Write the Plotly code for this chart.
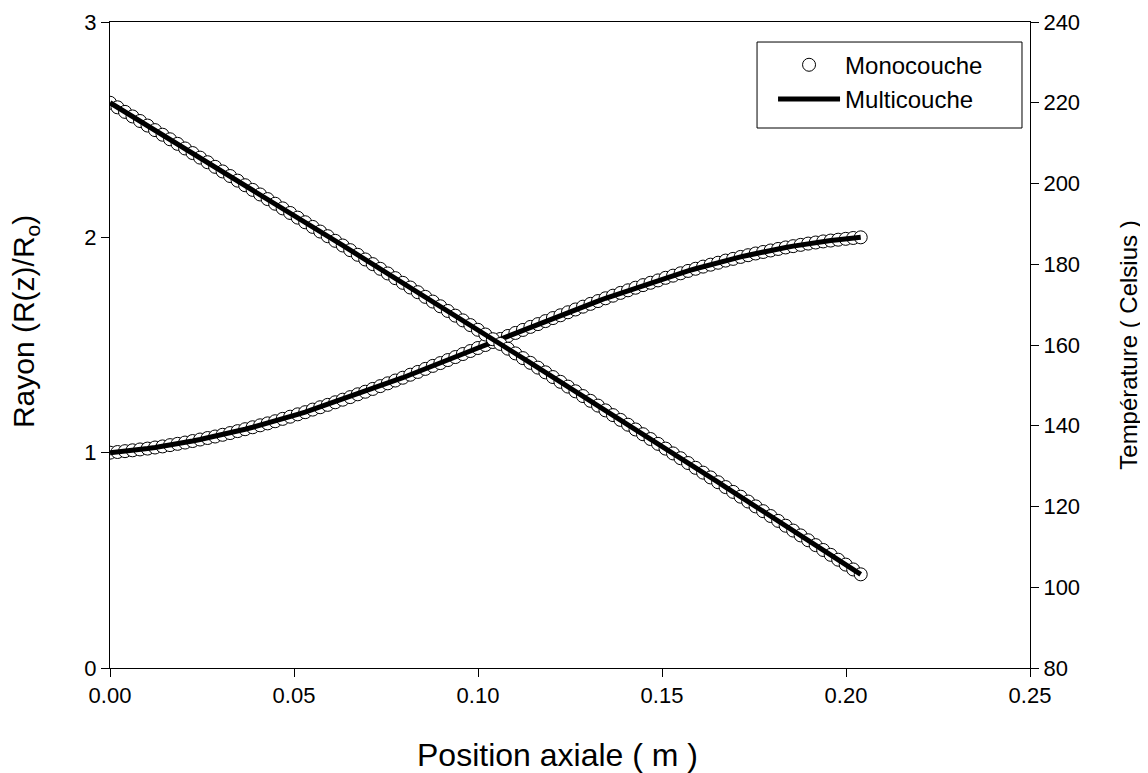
import plotly.graph_objects as go

z = [0.00000, 0.00204, 0.00408, 0.00612, 0.00816, 0.01020, 0.01224, 0.01428, 0.01632, 0.01836,
     0.02040, 0.02244, 0.02448, 0.02652, 0.02856, 0.03060, 0.03264, 0.03468, 0.03672, 0.03876,
     0.04080, 0.04284, 0.04488, 0.04692, 0.04896, 0.05100, 0.05304, 0.05508, 0.05712, 0.05916,
     0.06120, 0.06324, 0.06528, 0.06732, 0.06936, 0.07140, 0.07344, 0.07548, 0.07752, 0.07956,
     0.08160, 0.08364, 0.08568, 0.08772, 0.08976, 0.09180, 0.09384, 0.09588, 0.09792, 0.09996,
     0.10200, 0.10404, 0.10608, 0.10812, 0.11016, 0.11220, 0.11424, 0.11628, 0.11832, 0.12036,
     0.12240, 0.12444, 0.12648, 0.12852, 0.13056, 0.13260, 0.13464, 0.13668, 0.13872, 0.14076,
     0.14280, 0.14484, 0.14688, 0.14892, 0.15096, 0.15300, 0.15504, 0.15708, 0.15912, 0.16116,
     0.16320, 0.16524, 0.16728, 0.16932, 0.17136, 0.17340, 0.17544, 0.17748, 0.17952, 0.18156,
     0.18360, 0.18564, 0.18768, 0.18972, 0.19176, 0.19380, 0.19584, 0.19788, 0.19992, 0.20196,
     0.20400]

rayon = [1.000, 1.003, 1.007, 1.011, 1.015, 1.019, 1.024, 1.029, 1.035, 1.041,
         1.047, 1.054, 1.061, 1.068, 1.075, 1.083, 1.091, 1.100, 1.109, 1.118,
         1.127, 1.136, 1.146, 1.157, 1.167, 1.178, 1.188, 1.200, 1.211, 1.222,
         1.234, 1.246, 1.258, 1.271, 1.283, 1.296, 1.309, 1.322, 1.335, 1.348,
         1.362, 1.375, 1.389, 1.403, 1.416, 1.430, 1.444, 1.458, 1.472, 1.486,
         1.500, 1.514, 1.528, 1.542, 1.556, 1.570, 1.584, 1.597, 1.611, 1.625,
         1.638, 1.652, 1.665, 1.678, 1.691, 1.704, 1.717, 1.729, 1.742, 1.754,
         1.766, 1.778, 1.789, 1.800, 1.812, 1.822, 1.833, 1.844, 1.854, 1.864,
         1.873, 1.882, 1.892, 1.900, 1.909, 1.917, 1.925, 1.932, 1.939, 1.946,
         1.953, 1.959, 1.965, 1.971, 1.976, 1.981, 1.985, 1.989, 1.993, 1.997,
         2.000]

temperature = [220.00, 218.87, 217.74, 216.61, 215.48, 214.35, 213.22, 212.08, 210.95, 209.82,
               208.68, 207.54, 206.41, 205.27, 204.13, 202.99, 201.85, 200.71, 199.57, 198.42,
               197.28, 196.14, 194.99, 193.84, 192.70, 191.55, 190.40, 189.25, 188.10, 186.95,
               185.80, 184.65, 183.49, 182.34, 181.19, 180.03, 178.87, 177.72, 176.56, 175.40,
               174.24, 173.08, 171.92, 170.76, 169.59, 168.43, 167.27, 166.10, 164.93, 163.77,
               162.60, 161.43, 160.26, 159.09, 157.92, 156.75, 155.58, 154.40, 153.23, 152.06,
               150.88, 149.70, 148.53, 147.35, 146.17, 144.99, 143.81, 142.63, 141.45, 140.26,
               139.08, 137.90, 136.71, 135.52, 134.34, 133.15, 131.96, 130.77, 129.58, 128.39,
               127.20, 126.01, 124.81, 123.62, 122.43, 121.23, 120.03, 118.84, 117.64, 116.44,
               115.24, 114.04, 112.84, 111.64, 110.43, 109.23, 108.03, 106.82, 105.61, 104.41,
               103.20]

x_ticks = [0.00, 0.05, 0.10, 0.15, 0.20, 0.25]
x_labels = ["0.00", "0.05", "0.10", "0.15", "0.20", "0.25"]
y_ticks = [0, 1, 2, 3]
y2_ticks = [80, 100, 120, 140, 160, 180, 200, 220, 240]

FONT = "Arial, Liberation Sans, sans-serif"
marker_style = dict(symbol="circle", size=13, color="white", line=dict(color="black", width=1))

fig = go.Figure()
fig.add_trace(go.Scatter(x=z, y=rayon, mode="markers", marker=marker_style,
                         name="Monocouche", legendgroup="mono", showlegend=True))
fig.add_trace(go.Scatter(x=z, y=temperature, mode="markers", marker=marker_style, yaxis="y2",
                         name="Monocouche", legendgroup="mono", showlegend=False))
fig.add_trace(go.Scatter(x=z, y=rayon, mode="lines", line=dict(color="black", width=5),
                         name="Multicouche", legendgroup="multi", showlegend=True))
fig.add_trace(go.Scatter(x=z, y=temperature, mode="lines", line=dict(color="black", width=5),
                         yaxis="y2", name="Multicouche", legendgroup="multi", showlegend=False))

axis_common = dict(showline=True, linecolor="black", linewidth=1,
                   ticks="outside", ticklen=8, tickcolor="black",
                   showgrid=False, zeroline=False, automargin=False,
                   tickfont=dict(size=22))

fig.update_layout(
    width=1148, height=773,
    margin=dict(l=102, r=126, t=14, b=113),
    paper_bgcolor="white", plot_bgcolor="white",
    font=dict(family=FONT, size=22, color="black"),
    xaxis=dict(range=[0, 0.25], tickvals=x_ticks, ticktext=x_labels, mirror=True,
               **axis_common),
    yaxis=dict(range=[0, 3], tickvals=y_ticks, **axis_common),
    yaxis2=dict(range=[80, 240], tickvals=y2_ticks, overlaying="y", side="right",
                title=dict(text="Température ( Celsius )", font=dict(size=24), standoff=41),
                **axis_common),
    legend=dict(x=0.7207, y=0.968, xanchor="left", yanchor="top",
                borderwidth=0, bgcolor="rgba(0,0,0,0)",
                font=dict(size=24), itemwidth=62, tracegroupgap=0),
    shapes=[dict(type="rect", xref="paper", yref="paper",
                 x0=0.7033, x1=0.9913, y0=0.8359, y1=0.9690,
                 line=dict(color="black", width=1), fillcolor="white", layer="below")],
    annotations=[
        dict(text="Position axiale ( m )", xref="paper", yref="paper",
             x=0.486, y=-0.1347, xanchor="center", yanchor="middle",
             showarrow=False, font=dict(size=32)),
        dict(text="Rayon (R(z)/R<sub>o</sub>)", xref="paper", yref="paper",
             x=-0.0924, y=0.537, xanchor="center", yanchor="middle", textangle=-90,
             showarrow=False, font=dict(size=30)),
    ],
)

fig.write_html("out.html")
